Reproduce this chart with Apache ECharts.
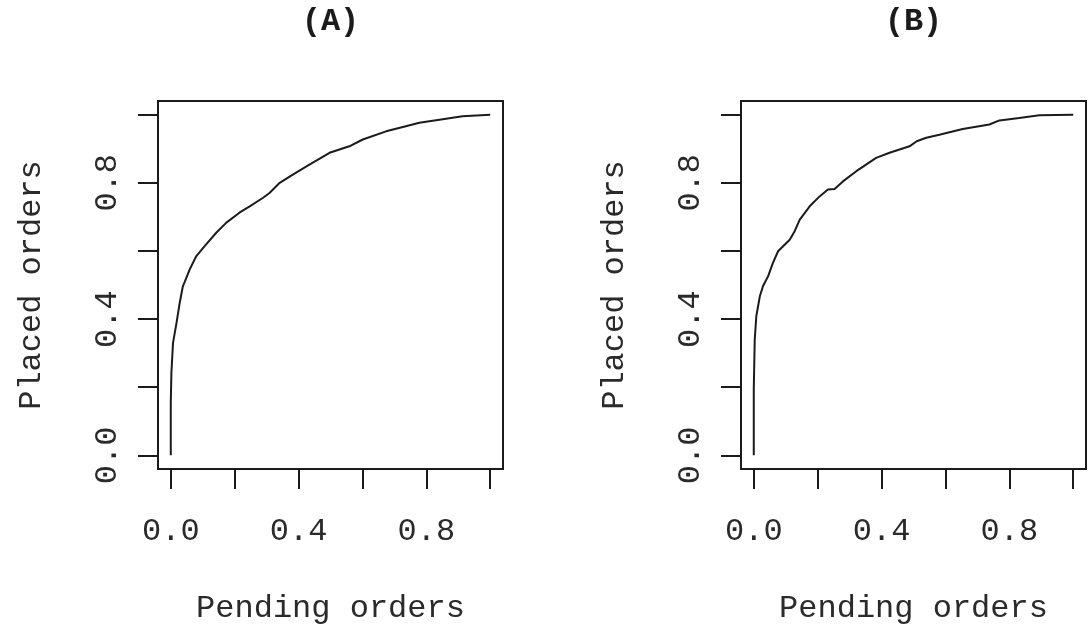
<!DOCTYPE html>
<html>
<head>
<meta charset="utf-8">
<script src="https://cdn.jsdelivr.net/npm/echarts@6/dist/echarts.min.js"></script>
<style>
  html, body { margin: 0; padding: 0; background: #fff; }
  #chart { width: 1091px; height: 624px; }
</style>
</head>
<body>
<div id="chart"></div>
<script>
// Cumulative share of placed orders vs. pending orders, two samples
const xA = [0, 0, 0.001, 0.002, 0.007, 0.018, 0.028, 0.038, 0.044, 0.059, 0.08, 0.106, 0.143, 0.174, 0.216, 0.247, 0.289, 0.309, 0.341, 0.382, 0.434, 0.497, 0.559, 0.601, 0.674, 0.736, 0.778, 0.841, 0.913, 1.0];
const yA = [0, 0.155, 0.2, 0.243, 0.33, 0.389, 0.448, 0.497, 0.51, 0.545, 0.585, 0.614, 0.654, 0.683, 0.713, 0.731, 0.756, 0.77, 0.80, 0.824, 0.853, 0.888, 0.907, 0.927, 0.951, 0.966, 0.976, 0.985, 0.995, 1.0];

const xB = [0, 0, 0.003, 0.008, 0.019, 0.029, 0.045, 0.06, 0.076, 0.1125, 0.128, 0.144, 0.175, 0.206, 0.232, 0.253, 0.279, 0.321, 0.383, 0.425, 0.4875, 0.51, 0.54, 0.581, 0.654, 0.7375, 0.769, 0.831, 0.894, 1.0];
const yB = [0, 0.194, 0.34, 0.409, 0.467, 0.497, 0.526, 0.565, 0.599, 0.633, 0.658, 0.692, 0.731, 0.76, 0.78, 0.782, 0.804, 0.834, 0.873, 0.888, 0.907, 0.922, 0.932, 0.941, 0.958, 0.971, 0.983, 0.99, 0.998, 1.0];

const panelTitles = ['(A)', '(B)'];
const xTitle = 'Pending orders';
const yTitle = 'Placed orders';
const tickValues = [0, 0.2, 0.4, 0.6, 0.8, 1.0];
const labelValues = [0, 0.4, 0.8];

const FONT = '"Liberation Mono", "Courier New", monospace';
const INK = '#1b1b1b';
const TXT = '#2a2a2a';
const FS = 32;

const grids = [
  { left: 158, top: 101, width: 345, height: 368 },
  { left: 741, top: 101, width: 345, height: 368 }
];

function pair(xs, ys) { return xs.map((x, i) => [x, ys[i]]); }

const chart = echarts.init(document.getElementById('chart'), null, { renderer: 'canvas' });

const option = {
  backgroundColor: '#ffffff',
  animation: false,
  grid: grids.map(g => Object.assign({
    show: true, borderColor: INK, borderWidth: 2, backgroundColor: 'transparent',
    containLabel: false, outerBoundsMode: 'none'
  }, g)),
  xAxis: [0, 1].map(i => ({
    type: 'value', gridIndex: i, min: -0.04, max: 1.04, position: 'bottom',
    splitLine: { show: false },
    axisLine: { show: false, onZero: false },
    axisTick: { show: true, inside: false, length: 20, customValues: tickValues, lineStyle: { color: INK, width: 2 } },
    axisLabel: { show: true, customValues: labelValues, margin: 47, fontFamily: FONT, fontSize: FS, color: TXT,
                 formatter: v => v.toFixed(1) },
    name: xTitle, nameLocation: 'middle', nameGap: 124,
    nameTextStyle: { fontFamily: FONT, fontSize: FS, color: TXT }
  })),
  yAxis: [0, 1].map(i => ({
    type: 'value', gridIndex: i, min: -0.04, max: 1.04, position: 'left',
    splitLine: { show: false },
    axisLine: { show: false, onZero: false },
    axisTick: { show: true, inside: false, length: 20, customValues: tickValues, lineStyle: { color: INK, width: 2 } },
    axisLabel: { show: true, customValues: labelValues, rotate: 90, margin: 34, fontFamily: FONT, fontSize: FS, color: TXT,
                 formatter: v => v.toFixed(1) },
    name: yTitle, nameLocation: 'middle', nameGap: 110, nameRotate: 90,
    nameTextStyle: { fontFamily: FONT, fontSize: FS, color: TXT }
  })),
  series: [
    { type: 'line', xAxisIndex: 0, yAxisIndex: 0, data: pair(xA, yA), showSymbol: false, smooth: false,
      lineStyle: { color: INK, width: 2 } },
    { type: 'line', xAxisIndex: 1, yAxisIndex: 1, data: pair(xB, yB), showSymbol: false, smooth: false,
      lineStyle: { color: INK, width: 2 } }
  ],
  graphic: grids.map((g, i) => ({
    type: 'text',
    x: g.left + g.width / 2,
    y: 22,
    style: { text: panelTitles[i], textAlign: 'center', textVerticalAlign: 'middle',
             font: 'bold ' + FS + 'px ' + FONT, fill: INK }
  }))
};

chart.setOption(option);
</script>
</body>
</html>
